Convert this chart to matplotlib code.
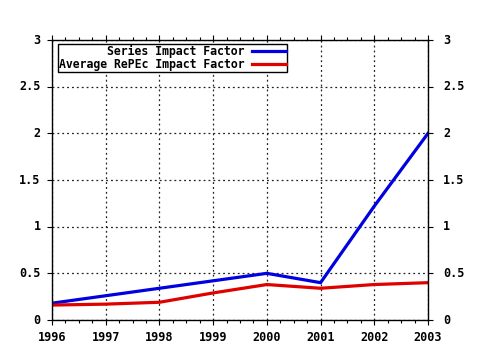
#!/usr/bin/env python3

import numpy as np
import matplotlib
matplotlib.use("Agg")
import matplotlib.pyplot as plt
from matplotlib.ticker import MultipleLocator

years = [1996, 1997, 1998, 1999, 2000, 2001, 2002, 2003]
series_impact = [0.18, 0.26, 0.34, 0.42, 0.50, 0.40, 1.22, 2.00]
repec_impact = [0.16, 0.17, 0.19, 0.29, 0.38, 0.34, 0.38, 0.40]

series_label = "Series Impact Factor"
repec_label = "Average RePEc Impact Factor"

FONT = dict(family="DejaVu Sans Mono", weight="bold", size=8.5)


def _main():
    fig = plt.figure(figsize=(4.8, 3.5), dpi=100)
    ax = fig.add_axes([52 / 480, 30 / 350, 376 / 480, 280 / 350])

    ax.plot(years, series_impact, color="#0000e0", linewidth=2.3,
            label=series_label, solid_joinstyle="miter")
    ax.plot(years, repec_impact, color="#e00000", linewidth=2.3,
            label=repec_label, solid_joinstyle="miter")

    ax.set_xlim(1996, 2003)
    ax.set_ylim(0, 3)
    ax.xaxis.set_major_locator(MultipleLocator(1))
    ax.xaxis.set_minor_locator(MultipleLocator(0.25))
    ax.yaxis.set_major_locator(MultipleLocator(0.5))

    ax.tick_params(which="both", direction="out", top=True, right=True,
                   labelleft=False, labelbottom=False, color="black")
    ax.tick_params(which="major", length=3.5, width=0.8)
    ax.tick_params(which="minor", length=2.5, width=0.8)

    # tick labels placed by hand, on both sides of the y axis
    ytrans = ax.get_yaxis_transform()
    for y in np.arange(0, 3.01, 0.5):
        txt = "{:g}".format(y)
        ax.text(-0.03, y, txt, transform=ytrans,
                ha="right", va="center", **FONT)
        ax.text(1.04, y, txt, transform=ytrans,
                ha="left", va="center", **FONT)
    for x in years:
        ax.text(x, -0.038, str(x), transform=ax.get_xaxis_transform(),
                ha="center", va="top", **FONT)

    ax.grid(which="major", color="#222222", linestyle=(0, (1.5, 2.4)),
            linewidth=0.9)

    for spine in ax.spines.values():
        spine.set_linewidth(1.0)

    leg = ax.legend(loc="upper left", bbox_to_anchor=(0.016, 0.986),
                    markerfirst=False, frameon=True, fancybox=False,
                    borderpad=0.1, labelspacing=0.0, handlelength=3.0,
                    handletextpad=0.6, borderaxespad=0.0,
                    prop=dict(family="DejaVu Sans Mono", weight="bold",
                              size=8.3))
    leg.get_frame().set_edgecolor("black")
    leg.get_frame().set_linewidth(1.0)
    leg.get_frame().set_alpha(1.0)

    fig.savefig("out.png", dpi=100)


if __name__ == "__main__":
    _main()
